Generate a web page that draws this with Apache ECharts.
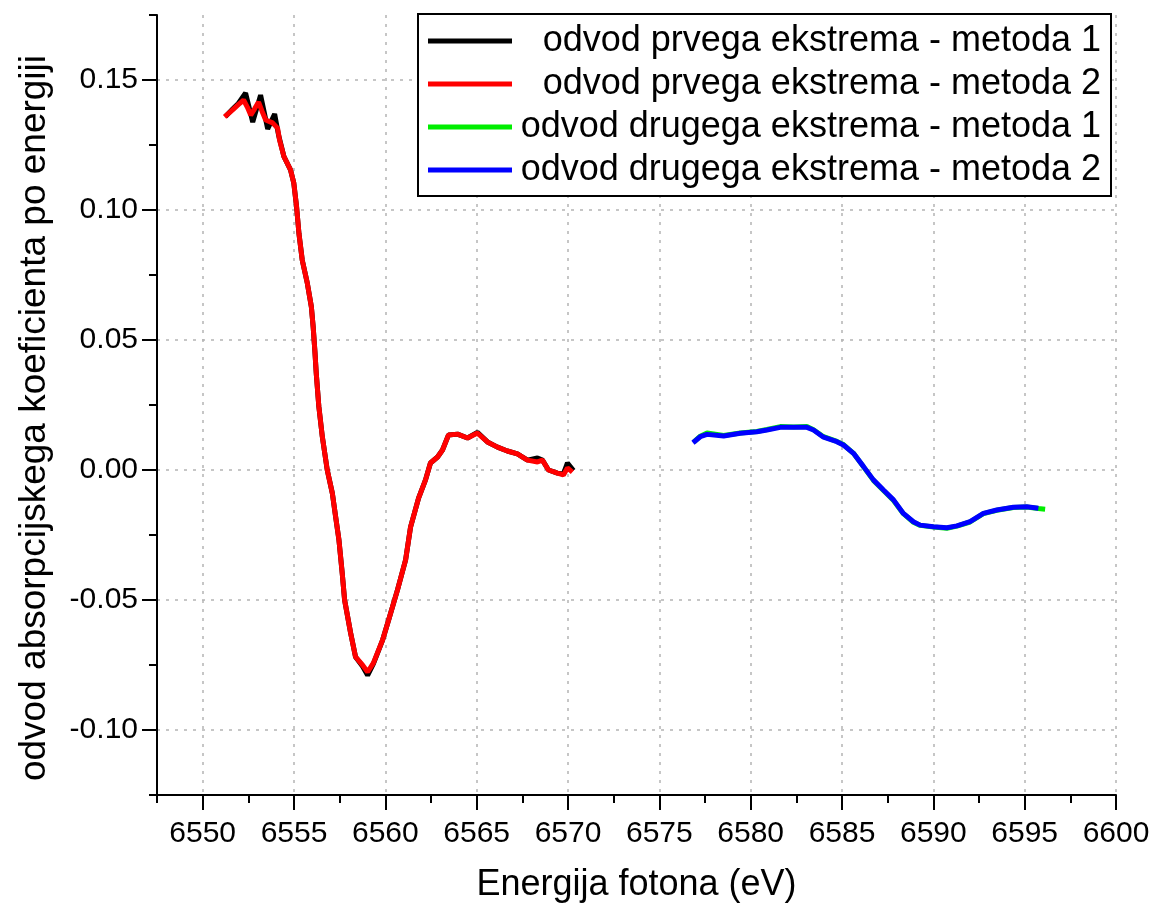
<!DOCTYPE html>
<html>
<head>
<meta charset="utf-8">
<script src="https://cdn.jsdelivr.net/npm/echarts@6/dist/echarts.min.js"></script>
<style>
html,body{margin:0;padding:0;background:#fff;}
#chart{width:1154px;height:905px;}
</style>
</head>
<body>
<div id="chart"></div>
<script>
// ---- data (x: photon energy in eV, y: derivative) ----
const seriesNames = [
  'odvod prvega ekstrema - metoda 1',
  'odvod prvega ekstrema - metoda 2',
  'odvod drugega ekstrema - metoda 1',
  'odvod drugega ekstrema - metoda 2'
];
const seriesColors = ['#000000', '#ff0000', '#00ee00', '#0000ff'];

const prviMetoda1 = [
  [6551.25,0.1360],[6551.64,0.1388],[6551.95,0.1410],[6552.35,0.1450],[6552.74,0.1338],
  [6553.17,0.1442],[6553.56,0.1312],[6553.94,0.1369],[6554.15,0.1290],[6554.45,0.1205],
  [6554.81,0.1154],[6554.99,0.1103],[6555.14,0.1013],[6555.27,0.0910],[6555.45,0.0808],
  [6555.73,0.0718],[6555.95,0.0628],[6556.05,0.0550],[6556.15,0.0450],[6556.22,0.0370],
  [6556.36,0.0244],[6556.55,0.0128],[6556.82,0.0000],[6557.10,-0.0090],[6557.28,-0.0180],
  [6557.46,-0.0269],[6557.64,-0.0397],[6557.77,-0.0500],[6558.10,-0.0627],[6558.37,-0.0719],
  [6558.75,-0.0755],[6559.03,-0.0790],[6559.35,-0.0745],[6559.85,-0.0654],[6560.18,-0.0577],
  [6560.67,-0.0460],[6561.11,-0.0346],[6561.38,-0.0220],[6561.82,-0.0108],[6562.20,-0.0038],
  [6562.47,0.0027],[6562.86,0.0050],[6563.13,0.0077],[6563.46,0.0135],[6563.95,0.0138],
  [6564.50,0.0123],[6565.04,0.0145],[6565.59,0.0108],[6566.14,0.0088],[6566.68,0.0073],
  [6567.23,0.0062],[6567.78,0.0038],[6568.33,0.0046],[6568.60,0.0038],[6568.93,0.0000],
  [6569.42,-0.0012],[6569.75,-0.0015],[6569.97,0.0027],[6570.30,-0.0002]
];
const prviMetoda2 = [
  [6551.20,0.1358],[6551.64,0.1385],[6551.95,0.1405],[6552.24,0.1423],[6552.45,0.1395],
  [6552.63,0.1365],[6552.85,0.1390],[6553.06,0.1415],[6553.25,0.1380],[6553.45,0.1346],
  [6553.83,0.1335],[6554.10,0.1315],[6554.21,0.1269],[6554.45,0.1205],[6554.81,0.1154],
  [6554.99,0.1103],[6555.14,0.1013],[6555.27,0.0910],[6555.45,0.0808],[6555.73,0.0718],
  [6555.95,0.0628],[6556.05,0.0550],[6556.15,0.0450],[6556.22,0.0370],[6556.36,0.0244],
  [6556.55,0.0128],[6556.82,0.0000],[6557.10,-0.0090],[6557.28,-0.0180],[6557.46,-0.0269],
  [6557.64,-0.0397],[6557.77,-0.0500],[6558.10,-0.0627],[6558.37,-0.0719],[6558.75,-0.0750],
  [6559.03,-0.0777],[6559.35,-0.0742],[6559.85,-0.0654],[6560.18,-0.0577],[6560.67,-0.0460],
  [6561.11,-0.0346],[6561.38,-0.0220],[6561.82,-0.0108],[6562.20,-0.0038],[6562.47,0.0027],
  [6562.86,0.0050],[6563.13,0.0077],[6563.46,0.0135],[6563.95,0.0138],[6564.50,0.0123],
  [6565.04,0.0142],[6565.59,0.0108],[6566.14,0.0088],[6566.68,0.0073],[6567.23,0.0062],
  [6567.78,0.0038],[6568.33,0.0031],[6568.60,0.0038],[6568.93,0.0000],[6569.42,-0.0012],
  [6569.75,-0.0019],[6569.97,0.0008],[6570.24,-0.0008]
];
const drugiMetoda1 = [
  [6576.90,0.0108],[6577.24,0.0130],[6577.61,0.0142],[6578.52,0.0133],[6579.43,0.0142],
  [6580.34,0.0148],[6580.89,0.0156],[6581.62,0.0167],[6582.35,0.0165],[6583.08,0.0167],
  [6583.44,0.0155],[6583.99,0.0128],[6584.72,0.0110],[6585.08,0.0098],[6585.63,0.0064],
  [6586.18,0.0012],[6586.72,-0.0040],[6587.27,-0.0079],[6587.82,-0.0117],[6588.36,-0.0168],
  [6588.91,-0.0201],[6589.28,-0.0213],[6590.01,-0.0219],[6590.74,-0.0224],[6591.29,-0.0216],
  [6592.01,-0.0200],[6592.74,-0.0168],[6593.47,-0.0155],[6594.38,-0.0144],[6595.11,-0.0142],
  [6595.75,-0.0148],[6596.12,-0.0151]
];
const drugiMetoda2 = [
  [6576.84,0.0105],[6577.24,0.0128],[6577.61,0.0137],[6578.52,0.0131],[6579.43,0.0141],
  [6580.34,0.0147],[6580.89,0.0154],[6581.62,0.0164],[6582.35,0.0164],[6583.08,0.0164],
  [6583.44,0.0154],[6583.99,0.0126],[6584.72,0.0109],[6585.08,0.0096],[6585.63,0.0064],
  [6586.18,0.0013],[6586.72,-0.0038],[6587.27,-0.0077],[6587.82,-0.0115],[6588.36,-0.0167],
  [6588.91,-0.0199],[6589.28,-0.0212],[6590.01,-0.0218],[6590.74,-0.0222],[6591.29,-0.0215],
  [6592.01,-0.0199],[6592.74,-0.0167],[6593.47,-0.0154],[6594.38,-0.0143],[6595.11,-0.0141],
  [6595.75,-0.0147]
];

// ---- axis ticks ----
const xMajorTicks = [6550,6555,6560,6565,6570,6575,6580,6585,6590,6595,6600];
const xMinorTicks = [6547.5,6552.5,6557.5,6562.5,6567.5,6572.5,6577.5,6582.5,6587.5,6592.5,6597.5];
const yMajorTicks = [-0.10,-0.05,0.00,0.05,0.10,0.15];
const yMinorTicks = [-0.125,-0.075,-0.025,0.025,0.075,0.125,0.175];
const xRange = [6547.5, 6600];
const yRange = [-0.125, 0.175];
const xTitle = 'Energija fotona (eV)';
const yTitle = 'odvod absorpcijskega koeficienta po energiji';

const FONT = '"Liberation Sans", Arial, sans-serif';
const chart = echarts.init(document.getElementById('chart'), null, {renderer: 'canvas'});

const dataSets = [prviMetoda1, prviMetoda2, drugiMetoda1, drugiMetoda2];
const gridStyle = {color: '#b4b4b4', width: 1.5, type: [3, 6]};

const option = {
  backgroundColor: '#ffffff',
  animation: false,
  grid: {left: 157, right: 38, top: 15, bottom: 110, containLabel: false, outerBoundsMode: 'none'},
  legend: {
    show: true,
    left: 418, top: 14, width: 694,
    orient: 'vertical',
    padding: [9, 10, 8, 10],
    itemGap: 7,
    itemWidth: 84, itemHeight: 5,
    icon: 'rect',
    borderColor: '#000', borderWidth: 2, borderRadius: 0,
    backgroundColor: '#fff',
    data: seriesNames,
    formatter: function (name) { return '{t|' + name + '}'; },
    textStyle: {
      color: '#000', fontFamily: FONT, fontSize: 36,
      rich: {t: {width: 584, align: 'right', fontFamily: FONT, fontSize: 36, color: '#000'}}
    }
  },
  xAxis: [{
    type: 'value', min: xRange[0], max: xRange[1], splitNumber: 10,
    name: xTitle, nameLocation: 'middle', nameGap: 72,
    nameTextStyle: {color: '#000', fontFamily: FONT, fontSize: 36},
    axisLine: {show: true, onZero: false, lineStyle: {color: '#000', width: 2}},
    axisTick: {show: true, inside: false, length: 15, lineStyle: {color: '#000', width: 2}, customValues: xMajorTicks},
    axisLabel: {show: true, margin: 24, color: '#000', fontFamily: FONT, fontSize: 30, customValues: xMajorTicks,
      formatter: function (v) { return String(Math.round(v)); }},
    splitLine: {show: true, lineStyle: gridStyle}
  }, {
    type: 'value', min: xRange[0], max: xRange[1], position: 'bottom', offset: 0,
    axisLine: {show: false, onZero: false},
    axisTick: {show: true, inside: false, length: 8, lineStyle: {color: '#000', width: 2}, customValues: xMinorTicks},
    axisLabel: {show: false},
    splitLine: {show: false}
  }],
  yAxis: [{
    type: 'value', min: yRange[0], max: yRange[1], splitNumber: 6,
    name: yTitle, nameLocation: 'middle', nameGap: 104,
    nameTextStyle: {color: '#000', fontFamily: FONT, fontSize: 37, padding: [0, 26, 0, 0]},
    axisLine: {show: true, onZero: false, lineStyle: {color: '#000', width: 2}},
    axisTick: {show: true, inside: false, length: 15, lineStyle: {color: '#000', width: 2}, customValues: yMajorTicks},
    axisLabel: {show: true, margin: 19, color: '#000', fontFamily: FONT, fontSize: 30,
      customValues: yMajorTicks,
      formatter: function (v) { return Number(v).toFixed(2); }},
    splitLine: {show: true, lineStyle: gridStyle}
  }, {
    type: 'value', min: yRange[0], max: yRange[1], position: 'left', offset: 0,
    axisLine: {show: false, onZero: false},
    axisTick: {show: true, inside: false, length: 8, lineStyle: {color: '#000', width: 2}, customValues: yMinorTicks},
    axisLabel: {show: false},
    splitLine: {show: false}
  }],
  series: seriesNames.map(function (name, i) {
    return {
      name: name, type: 'line', xAxisIndex: 0, yAxisIndex: 0,
      data: dataSets[i],
      showSymbol: false, symbol: 'none', smooth: false,
      color: seriesColors[i],
      lineStyle: {color: seriesColors[i], width: 5},
      itemStyle: {color: seriesColors[i]},
      z: 2 + i
    };
  })
};
chart.setOption(option);
</script>
</body>
</html>
